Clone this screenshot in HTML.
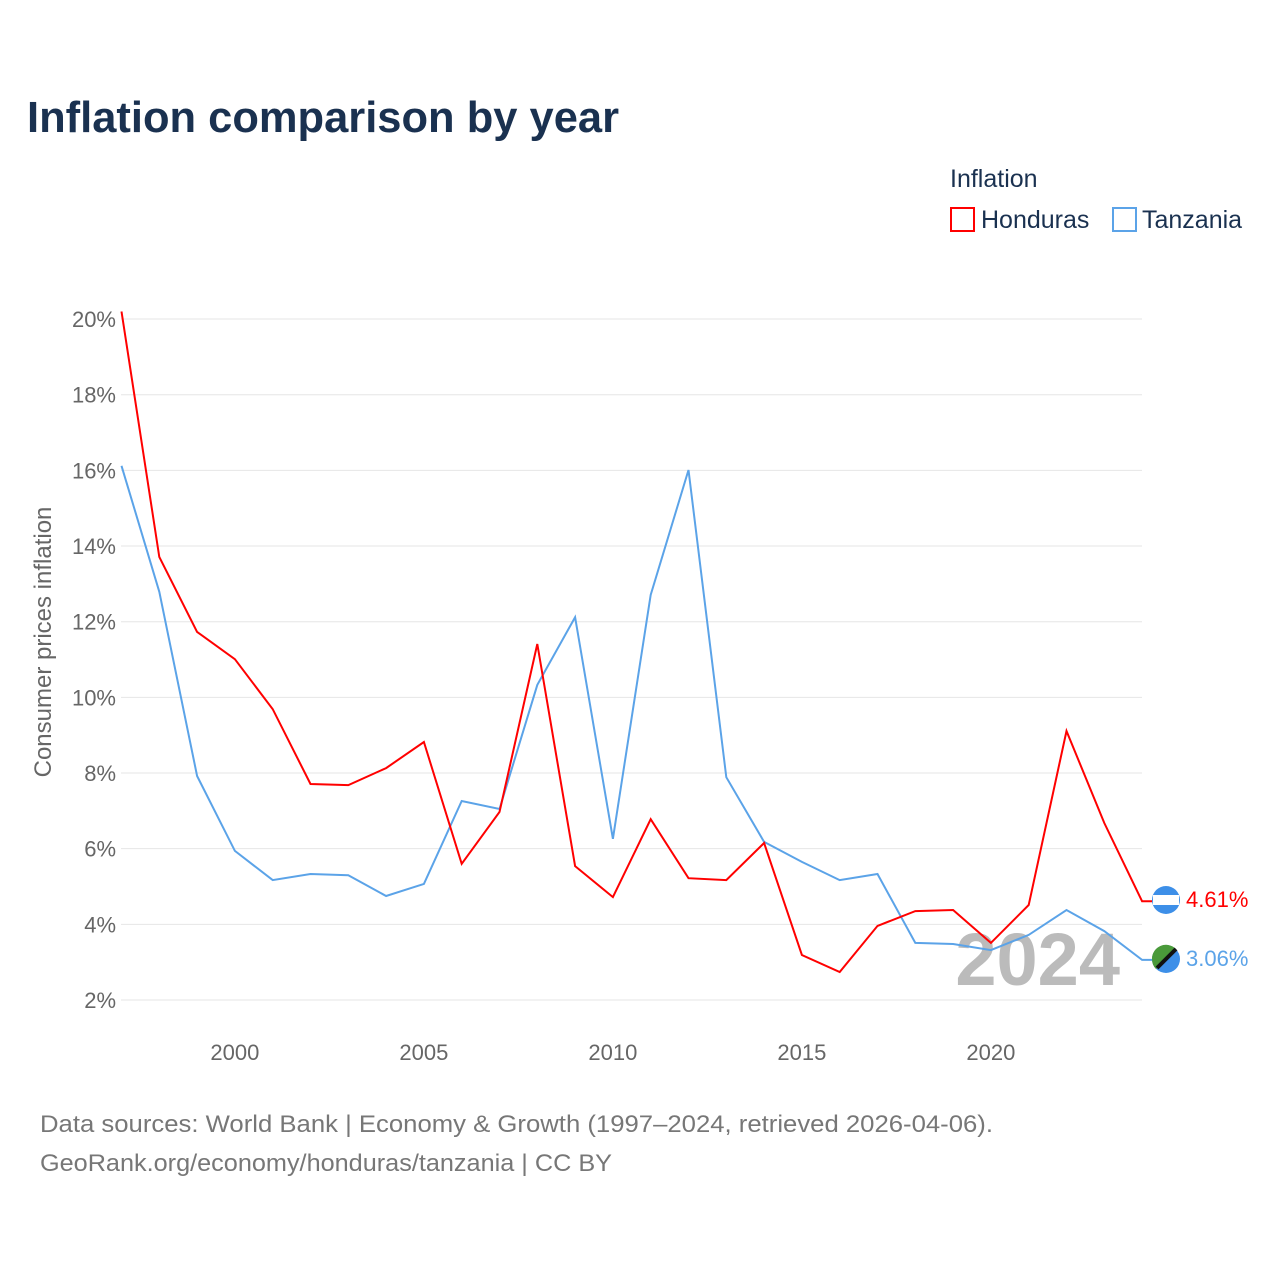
<!DOCTYPE html>
<html><head><meta charset="utf-8"><style>
body{margin:0;background:#fff;font-family:"Liberation Sans",sans-serif;}
svg text{font-family:"Liberation Sans",sans-serif;}
</style></head><body>
<svg id="chart" width="1280" height="1280" viewBox="0 0 1280 1280">
<text x="27" y="132" font-size="44" font-weight="bold" fill="#1a3150" textLength="592" lengthAdjust="spacingAndGlyphs">Inflation comparison by year</text>
<text x="950" y="187" font-size="25" fill="#1a3150">Inflation</text>
<g><rect x="951" y="208" width="23" height="23" fill="none" stroke="#f00" stroke-width="2"/><text x="981" y="228" font-size="25" fill="#1a3150">Honduras</text></g>
<g><rect x="1113" y="208" width="23" height="23" fill="none" stroke="#5ba3e8" stroke-width="2"/><text x="1142" y="228" font-size="25" fill="#1a3150">Tanzania</text></g>
<g id="grid"></g><g id="yticks"></g><g id="xticks"></g>
<text transform="translate(51,642) rotate(-90)" text-anchor="middle" font-size="24" fill="#666">Consumer prices inflation</text>
<text x="1120" y="985" text-anchor="end" font-size="74" font-weight="bold" fill="#bbb">2024</text>
<g id="series"></g>
<g><circle cx="1166" cy="900" r="14" fill="#3d8fe8"/><rect x="1153" y="895" width="26" height="10" fill="#fff"/><text x="1186" y="907" font-size="22" fill="#f00">4.61%</text></g>
<g><circle cx="1166" cy="959" r="14" fill="#3d8fe8"/><path d="M1152,959 A14,14 0 0 1 1176,949 L1156,969 A14,14 0 0 1 1152,959Z" fill="#4a9a3a"/><line x1="1157" y1="968" x2="1176" y2="949" stroke="#111" stroke-width="4"/><text x="1186" y="966" font-size="22" fill="#5ba3e8">3.06%</text></g>
<text x="40" y="1132" font-size="24" fill="#777" textLength="953" lengthAdjust="spacingAndGlyphs">Data sources: World Bank | Economy &amp; Growth (1997–2024, retrieved 2026-04-06).</text>
<text x="40" y="1171" font-size="24" fill="#777" textLength="572" lengthAdjust="spacingAndGlyphs">GeoRank.org/economy/honduras/tanzania | CC BY</text>
</svg>
<script>
const years=[1997,1998,1999,2000,2001,2002,2003,2004,2005,2006,2007,2008,2009,2010,2011,2012,2013,2014,2015,2016,2017,2018,2019,2020,2021,2022,2023,2024];
const honduras=[20.2,13.71,11.73,11.01,9.69,7.71,7.68,8.13,8.82,5.6,6.97,11.41,5.54,4.72,6.78,5.22,5.17,6.15,3.19,2.74,3.96,4.35,4.38,3.51,4.51,9.11,6.68,4.61];
const tanzania=[16.12,12.79,7.92,5.94,5.17,5.33,5.30,4.75,5.07,7.26,7.05,10.33,12.12,6.26,12.71,16.01,7.89,6.18,5.65,5.17,5.33,3.51,3.48,3.32,3.72,4.38,3.82,3.06];
const yTicks=[2,4,6,8,10,12,14,16,18,20];
const xTicks=[2000,2005,2010,2015,2020];
const NS="http://www.w3.org/2000/svg";
const xs=y=>121.5+(y-1997)*37.8;
const ys=v=>1000-(v-2)*37.83;
function mk(tag,attrs,parent){const e=document.createElementNS(NS,tag);for(const k in attrs)e.setAttribute(k,attrs[k]);document.getElementById(parent).appendChild(e);return e;}
yTicks.forEach(t=>{
  const l=mk('line',{x1:121,x2:1142,y1:ys(t),y2:ys(t),stroke:'#e6e6e6','stroke-width':1},'grid');
  
  
  const tx=mk('text',{x:116,y:ys(t)+8,'text-anchor':'end','font-size':22,fill:'#666'},'yticks');
  tx.textContent=t+'%';
  
  
});
xTicks.forEach(t=>{
  const tx=mk('text',{x:xs(t),y:1060,'text-anchor':'middle','font-size':22,fill:'#666'},'xticks');
  tx.textContent=t;
  
  
});
function line(vals,color,name){
  let d=vals.map((v,i)=>(i?'L':'M')+xs(years[i]).toFixed(1)+','+ys(v).toFixed(1)).join(' ');
  d+=' L'+(xs(2024)+10)+','+ys(vals[vals.length-1]).toFixed(1);
  const p=mk('path',{d:d,fill:'none',stroke:color,'stroke-width':2},'series');
  
  
}
line(tanzania,'#5ba3e8','tanzania-line');
line(honduras,'#f00','honduras-line');
</script>
</body></html>
